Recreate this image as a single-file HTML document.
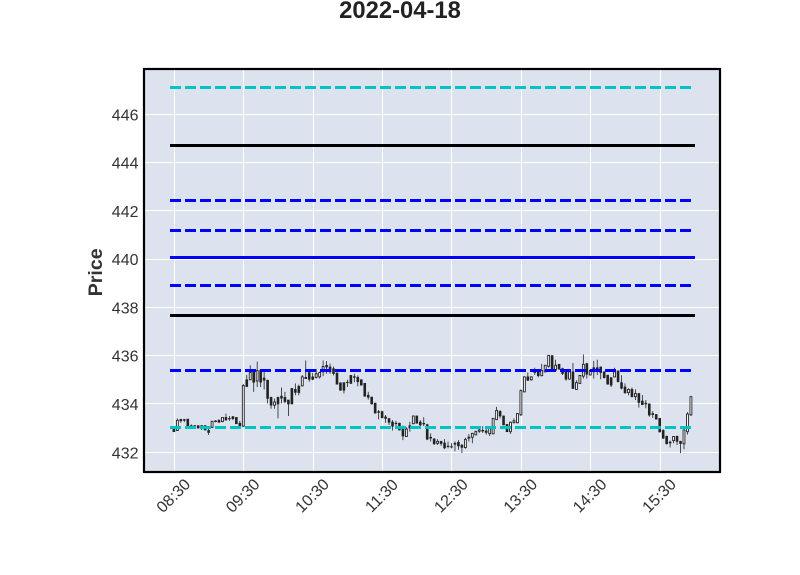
<!DOCTYPE html>
<html>
<head>
<meta charset="utf-8">
<title>2022-04-18</title>
<style>
html,body{margin:0;padding:0;background:#fff;width:800px;height:575px;overflow:hidden}
svg{display:block;font-family:"Liberation Sans",sans-serif}
</style>
</head>
<body>
<svg id="chart" xmlns="http://www.w3.org/2000/svg" width="800" height="575" viewBox="0 0 800 575">
<text x="400" y="18" text-anchor="middle" font-size="23.8" font-weight="700" fill="#222">2022-04-18</text>
<text transform="translate(101.8,272.3) rotate(-90)" text-anchor="middle" font-size="19.6" font-weight="700" fill="#333">Price</text>
<rect x="144" y="69" width="576" height="403" fill="#dce3ef"/>
<g id="grid"></g>
<g id="candles"></g>
<g id="levels"></g>
<rect x="144" y="69" width="576" height="403" fill="none" stroke="#000" stroke-width="2.2"/>
<g id="yticks"></g>
<g id="xticks"></g>
</svg>
<script>
const timeLabels = ["08:30","09:30","10:30","11:30","12:30","13:30","14:30","15:30"];
const candlesPerLabel = 20;
const priceTicks = [432,434,436,438,440,442,444,446];

const opens = [
433.00,432.90,433.36,433.35,433.37,433.10,433.10,433.10,433.10,433.10,
432.90,433.03,433.27,433.33,433.27,433.44,433.40,433.47,433.44,433.20,
433.08,435.00,435.00,435.32,434.95,435.40,435.07,434.98,434.27,433.95,
434.27,434.32,434.27,434.16,434.64,434.60,434.73,434.75,435.10,435.30,
435.12,435.10,435.12,435.33,435.60,435.53,435.46,435.28,434.87,434.88,
434.90,435.18,435.13,435.10,435.00,434.85,434.36,434.28,434.03,433.68,
433.68,433.46,433.39,433.25,433.20,433.20,433.03,432.65,433.10,433.18,
433.50,433.25,433.20,433.14,432.62,432.55,432.37,432.45,432.38,432.25,
432.23,432.37,432.41,432.29,432.19,432.58,432.62,432.72,432.87,432.88,
432.88,432.77,432.76,433.35,433.70,433.50,433.15,432.85,433.22,433.22,
433.55,434.50,435.12,435.00,435.40,435.35,435.17,435.33,435.56,436.00,
435.40,435.64,435.46,435.37,435.03,435.33,434.60,434.85,435.15,435.67,
435.20,435.50,435.50,435.53,435.33,435.19,435.09,435.12,435.37,434.88,
434.70,434.47,434.60,434.30,434.43,434.12,434.03,434.00,433.60,433.56,
433.40,432.90,432.66,432.42,432.48,432.66,432.45,432.35,432.85,433.55];
const highs = [
433.05,433.40,433.38,433.38,433.38,433.15,433.12,433.10,433.12,433.12,
433.02,433.30,433.33,433.35,433.46,433.60,433.50,433.50,433.46,433.30,
434.82,435.20,435.60,435.33,435.75,435.45,435.33,435.00,434.30,434.22,
434.30,434.68,434.50,434.16,434.66,434.85,434.80,435.20,435.80,435.32,
435.28,435.45,435.33,435.80,435.78,435.67,435.55,435.30,434.90,434.90,
435.00,435.20,435.25,435.18,435.02,434.87,434.50,434.30,434.05,433.75,
433.72,433.54,433.42,433.33,433.30,433.22,433.10,433.03,433.26,433.52,
433.52,433.33,433.45,433.18,432.78,432.58,432.54,432.47,432.54,432.44,
432.37,432.45,432.50,432.34,432.60,432.75,432.80,432.90,433.03,433.08,
433.03,433.02,433.42,433.88,433.72,433.52,433.17,433.27,433.40,433.62,
434.60,435.14,435.30,435.14,435.50,435.37,435.66,435.62,436.02,436.02,
435.83,435.66,435.50,435.40,435.36,435.70,434.98,435.20,436.05,435.70,
435.45,435.78,435.83,435.55,435.35,435.20,435.10,435.50,435.38,435.19,
434.85,434.65,434.68,434.60,434.45,434.37,434.16,434.02,433.70,433.58,
433.42,432.95,432.68,432.48,432.67,432.68,432.47,432.95,433.66,434.32];
const lows = [
432.85,432.90,433.22,433.25,433.05,433.03,433.03,433.00,432.92,432.90,
432.72,433.00,433.24,433.22,433.24,433.32,433.30,433.33,433.17,433.08,
433.05,434.70,435.00,434.50,434.70,434.70,434.60,434.02,433.80,433.80,
433.40,434.02,434.02,433.50,434.00,434.36,434.36,434.72,435.05,434.92,
434.98,435.05,435.05,435.15,435.25,435.25,435.18,434.80,434.54,434.43,
434.70,434.83,434.90,434.73,434.76,434.30,434.18,433.98,433.60,433.36,
433.40,433.22,433.13,432.90,433.03,432.90,432.50,432.65,432.85,433.16,
433.20,433.06,433.08,432.50,432.44,432.30,432.30,432.26,432.12,432.16,
432.16,432.04,432.10,431.96,432.15,432.44,432.37,432.70,432.80,432.80,
432.73,432.67,432.75,433.33,433.40,433.12,432.83,432.76,433.20,433.20,
433.50,434.48,434.95,434.96,435.20,435.10,435.14,435.30,435.50,435.38,
435.33,435.42,435.20,434.96,435.00,434.62,434.58,434.83,435.05,435.05,
435.18,435.05,435.20,435.02,435.05,434.80,434.70,435.10,434.90,434.60,
434.42,434.36,434.27,434.16,433.85,433.95,433.82,433.47,433.42,433.35,
432.82,432.55,432.32,432.20,432.37,432.30,431.96,432.12,432.73,433.50];
const closes = [
432.85,433.32,433.30,433.32,433.08,433.07,433.07,433.00,433.08,432.92,
432.82,433.28,433.29,433.24,433.44,433.33,433.38,433.39,433.18,433.08,
434.76,434.72,435.30,434.90,435.38,434.90,434.98,434.23,433.95,434.08,
434.00,434.24,434.10,434.00,434.00,434.48,434.47,435.12,435.05,435.02,
435.02,435.25,435.30,435.55,435.53,435.33,435.26,434.82,434.57,434.57,
434.88,434.85,435.10,434.92,434.78,434.32,434.28,434.00,433.62,433.65,
433.43,433.40,433.24,433.08,433.18,432.92,432.67,432.96,433.00,433.50,
433.20,433.13,433.17,432.54,432.58,432.35,432.45,432.36,432.18,432.23,
432.22,432.33,432.26,432.20,432.53,432.62,432.78,432.85,432.92,432.90,
432.82,432.99,433.40,433.73,433.50,433.13,432.85,433.24,433.30,433.60,
434.55,435.12,434.98,435.12,435.30,435.17,435.38,435.60,436.01,435.40,
435.60,435.44,435.26,435.03,435.33,434.64,434.88,435.18,435.64,435.23,
435.39,435.33,435.35,435.30,435.09,434.82,434.78,435.33,434.92,434.65,
434.46,434.60,434.30,434.43,434.06,433.97,434.00,433.54,433.56,433.37,
432.84,432.58,432.35,432.38,432.65,432.45,432.36,432.92,433.58,434.30];

const cyanLevels = [447.10,433.03];
const blackLevels = [444.70,437.66];
const blueDashedLevels = [442.42,441.18,438.90,435.37];
const blueSolidLevels = [440.06];

function xScale(i){ return 173.9 + (i * 3.47); }
function yScale(v){ return 452.2 - ((v - 432) * 24.14); }
function snap(p){ return Math.round(p - 0.5) + 0.5; }
function snapX(p){ return Math.floor(p) + 0.5; }

const SVGNS = "http://www.w3.org/2000/svg";
function make(tag, attrs, parent){
  const el = document.createElementNS(SVGNS, tag);
  for (const k in attrs) el.setAttribute(k, attrs[k]);
  parent.appendChild(el);
  return el;
}

const gridGroup = document.getElementById("grid");
const candleGroup = document.getElementById("candles");
const levelGroup = document.getElementById("levels");
const yTickGroup = document.getElementById("yticks");
const xTickGroup = document.getElementById("xticks");

priceTicks.forEach(function(p){
  const y = yScale(p);
  const sy = snap(y);
  const line = make("line", {x1:144, x2:720, y1:sy, y2:sy, stroke:"#fff", "stroke-width":1}, gridGroup);
  
  
  const label = make("text", {x:138.5, y:y + 6.1, "text-anchor":"end", "font-size":16, fill:"#333"}, yTickGroup);
  
  
  label.textContent = String(p);
});

timeLabels.forEach(function(t, n){
  const x = xScale(n * candlesPerLabel) + 0.3;
  const sx = snapX(x);
  const line = make("line", {x1:sx, x2:sx, y1:69, y2:472, stroke:"#fff", "stroke-width":1}, gridGroup);
  
  
  const cx = x - 1;
  const cy = 495.5;
  const label = make("text", {x:cx, y:cy + 5.6, "text-anchor":"middle", "font-size":16, fill:"#333", transform:"rotate(-45 " + cx + " " + cy + ")"}, xTickGroup);
  
  
  label.textContent = t;
});

opens.forEach(function(o, i){
  const c = closes[i];
  const x = xScale(i);
  const up = c >= o;
  const wick = make("line", {x1:x, x2:x, y1:yScale(highs[i]), y2:yScale(lows[i]), stroke:"#222", "stroke-width":0.8}, candleGroup);
  
  
  const top = yScale(Math.max(o, c));
  const h = Math.max(Math.abs(yScale(o) - yScale(c)), 0.4);
  const body = make("rect", {x:x - 0.95, y:top, width:1.9, height:h, fill:up ? "#fff" : "#222", stroke:"#222", "stroke-width":up ? 0.9 : 0.7}, candleGroup);
  
  
});

function drawLevel(v, color, dashed, name){
  const y = snap(yScale(v));
  const attrs = {x1:170, x2:695, y1:y, y2:y, stroke:color, "stroke-width":3};
  if (dashed) attrs["stroke-dasharray"] = "11 4";
  const line = make("line", attrs, levelGroup);
  
  
}
blueDashedLevels.forEach(function(v){ drawLevel(v, "#0000ff", true, "blue-dashed-level"); });
blueSolidLevels.forEach(function(v){ drawLevel(v, "#0000ff", false, "blue-solid-level"); });
blackLevels.forEach(function(v){ drawLevel(v, "#000", false, "black-level"); });
cyanLevels.forEach(function(v){ drawLevel(v, "#00c4c4", true, "cyan-dashed-level"); });
</script>
</body>
</html>
